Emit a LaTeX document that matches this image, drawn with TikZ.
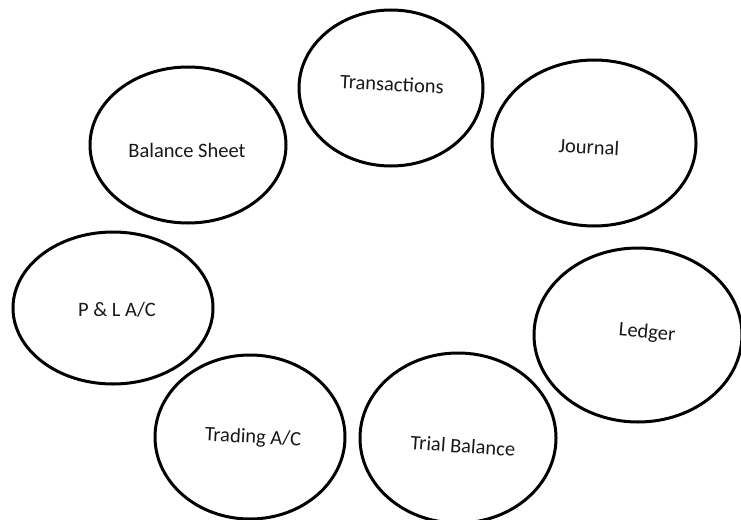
\documentclass[tikz,border=0pt]{standalone}
\usepackage{fontspec}
\setmainfont{Carlito}
\usetikzlibrary{shapes.geometric}
\begin{document}
\begin{tikzpicture}[x=1pt,y=-1pt,
  stage/.style={draw=black, line width=3pt},
  lbl/.style={font=\fontsize{20.5}{22}\selectfont, text=black!90, inner sep=0pt}]
\useasboundingbox[fill=white] (0,0) rectangle (741,519);
% ellipses
\draw[stage] (391,88) ellipse [x radius=92, y radius=78];
\draw[stage] (594,143) ellipse [x radius=102, y radius=83];
\draw[stage] (188,145) ellipse [x radius=98, y radius=78];
\draw[stage] (113,308) ellipse [x radius=100, y radius=76];
\draw[stage] (638,335) ellipse [x radius=104, y radius=87];
\draw[stage] (250,437) ellipse [x radius=95, y radius=82];
\draw[stage] (458,438) ellipse [x radius=98, y radius=85];
% labels
\node[lbl, rotate=-3] (tr) at (392,84) {Transactions};
\node[lbl, rotate=-3] (jo) at (589,147) {Journal};
\node[lbl] (bs) at (187,150) {Balance Sheet};
\node[lbl] (pl) at (117,310) {P \& L A/C};
\node[lbl, rotate=-5] (le) at (647,333) {Ledger};
\node[lbl, rotate=-3] (ta) at (253,438) {Trading A/C};
\node[lbl, rotate=-4] (tb) at (463,446) {Trial Balance};
\end{tikzpicture}
\end{document}
